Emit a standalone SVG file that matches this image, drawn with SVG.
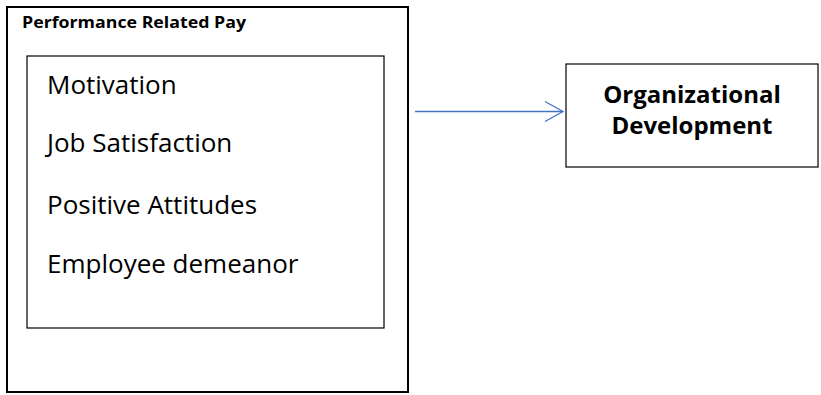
<svg xmlns="http://www.w3.org/2000/svg" width="821" height="395" viewBox="0 0 821 395">
  <style>
    .item { font-family: "Open Sans", "Liberation Sans", sans-serif; font-size: 26px; fill: #000; }
    .title { font-family: "Open Sans", "Liberation Sans", sans-serif; font-size: 16px; font-weight: bold; fill: #000; }
    .org { font-family: "Open Sans", "Liberation Sans", sans-serif; font-size: 24px; font-weight: bold; fill: #000; text-anchor: middle; }
    .box { fill: #fff; stroke: #000; }
  </style>
  <defs>
    <marker id="chev" markerUnits="userSpaceOnUse" markerWidth="24" markerHeight="24" viewBox="0 0 24 24" refX="20" refY="12" orient="auto">
      <path d="M2,2 L20,12 L2,22" fill="none" stroke="#4472C4" stroke-width="1.3"/>
    </marker>
  </defs>
  <g id="performance-related-pay">
    <rect class="box" x="7" y="7" width="401" height="385" stroke-width="2"/>
    <text class="title" x="22" y="28" textLength="224" lengthAdjust="spacingAndGlyphs">Performance Related Pay</text>
  </g>
  <g id="factors">
    <rect class="box" x="27" y="56" width="357" height="272" stroke="#333" stroke-width="1.2"/>
    <text class="item" x="47" y="94">Motivation</text>
    <text class="item" x="47" y="152">Job Satisfaction</text>
    <text class="item" x="47" y="214">Positive Attitudes</text>
    <text class="item" x="47" y="273">Employee demeanor</text>
  </g>
  <g id="organizational-development">
    <rect class="box" x="566" y="64" width="252" height="103" stroke="#222" stroke-width="1.2"/>
    <text class="org" x="692" y="103">Organizational</text>
    <text class="org" x="692" y="134">Development</text>
  </g>
  <g id="connectors">
    <line x1="415" y1="111.5" x2="563" y2="111.5" stroke="#4472C4" stroke-width="1.3" marker-end="url(#chev)"/>
  </g>
</svg>
